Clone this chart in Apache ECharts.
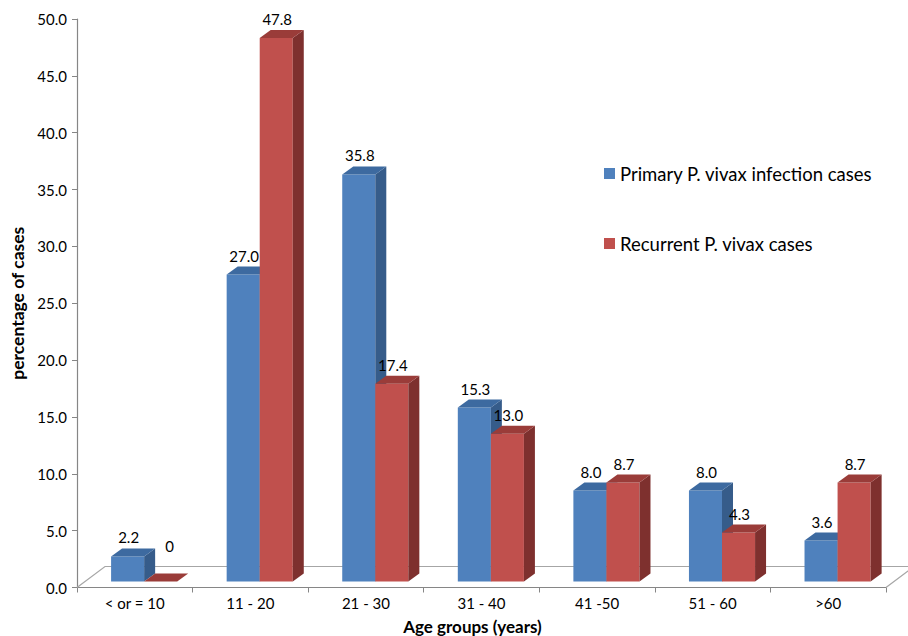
<!DOCTYPE html>
<html>
<head>
<meta charset="utf-8">
<script src="https://cdn.jsdelivr.net/npm/echarts@6/dist/echarts.min.js"></script>
<style>html,body{margin:0;padding:0;background:#fff;overflow:hidden;}#c{width:908px;height:636px;}</style>
</head>
<body>
<div id="c"></div>
<script>
const categories = ['< or = 10', '11 - 20', '21 - 30', '31 - 40', '41 -50', '51 - 60', '>60'];
const primary = [2.2, 27.0, 35.8, 15.3, 8.0, 8.0, 3.6];
const recurrent = [0, 47.8, 17.4, 13.0, 8.7, 4.3, 8.7];
const yTicks = { min: 0, max: 50, interval: 5 };
const seriesNames = ['Primary P. vivax infection cases', 'Recurrent P. vivax cases'];

const FONT = 'Lato, "Open Sans", sans-serif';
const palette = [
  { front: '#4F81BD', side: '#365C8A', top: '#3D6AA0' },
  { front: '#C0504D', side: '#7E302E', top: '#9A3C39' }
];

function fmt(v) { return v === 0 ? '0' : v.toFixed(1); }

function makeRender(slot) {
  const col = palette[slot];
  return function (params, api) {
    const idx = api.value(0), v = api.value(1);
    const base = api.coord([idx, 0]);
    const tp = api.coord([idx, v]);
    const w = api.size([1, 0])[0];
    const lift = 6, dx = 11, dy = 8;
    const x0 = base[0] + (slot === 0 ? -0.205 : 0.081) * w;
    const bw = 0.286 * w;
    const yb = base[1] - lift, yt = tp[1] - lift;
    const children = [];
    if (yb - yt > 0.5) {
      children.push({ type: 'rect', shape: { x: x0, y: yt, width: bw, height: yb - yt }, style: { fill: col.front } });
      children.push({ type: 'polygon', shape: { points: [[x0 + bw, yt], [x0 + bw + dx, yt - dy], [x0 + bw + dx, yb - dy], [x0 + bw, yb]] }, style: { fill: col.side } });
    }
    children.push({ type: 'polygon', shape: { points: [[x0, yt], [x0 + dx, yt - dy], [x0 + bw + dx, yt - dy], [x0 + bw, yt]] }, style: { fill: col.top } });
    children.push({ type: 'text', style: { text: fmt(v), x: x0 + bw / 2 + 1 + (v === 0 ? 8 : 0), y: yt - 19 - (v === 0 ? 17 : 0), align: 'center', verticalAlign: 'middle', fill: '#000', font: '15px ' + FONT } });
    return { type: 'group', children: children };
  };
}

function renderFloor(params, api) {
  const cs = params.coordSys;
  const x = cs.x, yB = cs.y + cs.height, w = cs.width;
  const ddx = 28, ddy = 21;
  return {
    type: 'polyline',
    shape: { points: [[x, yB], [x + ddx, yB - ddy], [x + w + ddx, yB - ddy], [x + w, yB]] },
    style: { stroke: '#A6A6A6', lineWidth: 1.2, fill: null }
  };
}

const chart = echarts.init(document.getElementById('c'), null, { renderer: 'svg' });
chart.setOption({
  animation: false,
  backgroundColor: '#fff',
  textStyle: { fontFamily: FONT },
  grid: { left: 77, right: 22, top: 19, bottom: 48.5, containLabel: false, outerBoundsMode: 'none' },
  legend: {
    orient: 'vertical', left: 604, top: 164, itemGap: 51, padding: 0,
    icon: 'rect', itemWidth: 11, itemHeight: 11,
    textStyle: { fontSize: 18.5, color: '#000', fontFamily: FONT },
    data: seriesNames, selectedMode: false
  },
  xAxis: {
    type: 'category', data: categories,
    name: 'Age groups (years)', nameLocation: 'middle', nameGap: 30,
    nameTextStyle: { fontSize: 17, fontWeight: 'bold', color: '#000', padding: [0, 18, 0, 0], fontFamily: FONT },
    axisLine: { lineStyle: { color: '#868686', width: 1.2 } },
    axisTick: { show: true, interval: 0, length: 5, lineStyle: { color: '#868686' } },
    axisLabel: { fontSize: 15, color: '#000', margin: 8, interval: 0, fontFamily: FONT },
    splitLine: { show: false }
  },
  yAxis: {
    type: 'value', min: yTicks.min, max: yTicks.max, interval: yTicks.interval,
    name: 'percentage of cases', nameLocation: 'middle', nameGap: 51,
    nameTextStyle: { fontSize: 17.5, fontWeight: 'bold', color: '#000', fontFamily: FONT },
    axisLine: { show: true, lineStyle: { color: '#868686', width: 1.2 } },
    axisTick: { show: true, length: 5, lineStyle: { color: '#868686' } },
    axisLabel: { fontSize: 15, color: '#000', margin: 10, formatter: v => v.toFixed(1), fontFamily: FONT },
    splitLine: { show: false }
  },
  series: [
    { type: 'custom', name: 'floor', renderItem: renderFloor, data: [[0, 0]], z: 1, silent: true, legendHoverLink: false },
    { type: 'custom', name: seriesNames[0], renderItem: makeRender(0), itemStyle: { color: palette[0].front },
      data: primary.map((v, i) => [i, v]), encode: { x: 0, y: 1 }, z: 2 },
    { type: 'custom', name: seriesNames[1], renderItem: makeRender(1), itemStyle: { color: palette[1].front },
      data: recurrent.map((v, i) => [i, v]), encode: { x: 0, y: 1 }, z: 3 }
  ]
});
</script>
</body>
</html>
